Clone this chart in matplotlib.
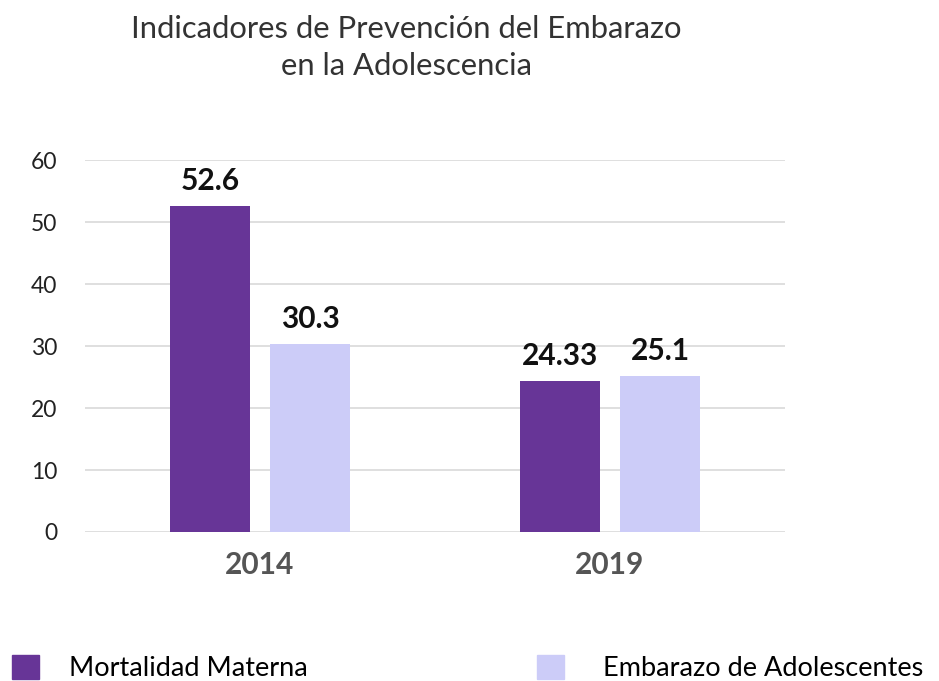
import matplotlib
matplotlib.use("Agg")
import matplotlib.pyplot as plt
import numpy as np
from matplotlib.patches import Patch

plt.rcParams['font.family'] = ['Lato', 'DejaVu Sans']

# data
years = ['2014', '2019']
series_names = ['Mortalidad Materna', 'Embarazo de Adolescentes']
mortalidad = [52.6, 24.33]
embarazo = [30.3, 25.1]
colors = ['#673597', '#CCCCF8']

fig = plt.figure(figsize=(9.39, 6.81), dpi=100)
ax = fig.add_axes([0.0905, 0.2188, 0.7455, 0.5462])

x = np.arange(len(years))
w = 0.227
off = 0.143
b1 = ax.bar(x - off, mortalidad, w, color=colors[0])
b2 = ax.bar(x + off, embarazo, w, color=colors[1])

for bars, vals in ((b1, mortalidad), (b2, embarazo)):
    for b, v in zip(bars, vals):
        ax.annotate(f"{v:g}", (b.get_x() + b.get_width() / 2, v),
                    xytext=(0, 8), textcoords='offset points',
                    ha='center', va='bottom', fontsize=21.5,
                    fontweight='bold', color='#111111')

ax.set_xlim(-0.5, 1.5)
ax.set_ylim(0, 60)
ax.set_yticks(range(0, 61, 10))
ax.set_xticks(x)
ax.set_xticklabels(years, fontsize=21.5, fontweight='bold', color='#555555')
ax.tick_params(axis='y', labelsize=16.5, labelcolor='#222222', length=0, pad=20)
ax.tick_params(axis='x', length=0, pad=14)
ax.grid(axis='y', color='#d9d9d9', linewidth=1.2)
ax.set_axisbelow(True)
for s in ax.spines.values():
    s.set_visible(False)

fig.text(0.433, 0.978, "Indicadores de Prevención del Embarazo\nen la Adolescencia",
         ha='center', va='top', fontsize=22.3, color='#333333', linespacing=1.38)

# legend drawn as two separate entries along the bottom
common = dict(loc='lower left', frameon=False, fontsize=19.5, handlelength=1.0,
              handleheight=1.0, borderpad=0, borderaxespad=0)
fig.legend(handles=[Patch(color=colors[0])], labels=[series_names[0]],
           bbox_to_anchor=(12 / 939, 0.0), handletextpad=1.1, **common)
fig.legend(handles=[Patch(color=colors[1])], labels=[series_names[1]],
           bbox_to_anchor=(537 / 939, 0.0), handletextpad=1.42, **common)

fig.savefig('out.png', dpi=100)
